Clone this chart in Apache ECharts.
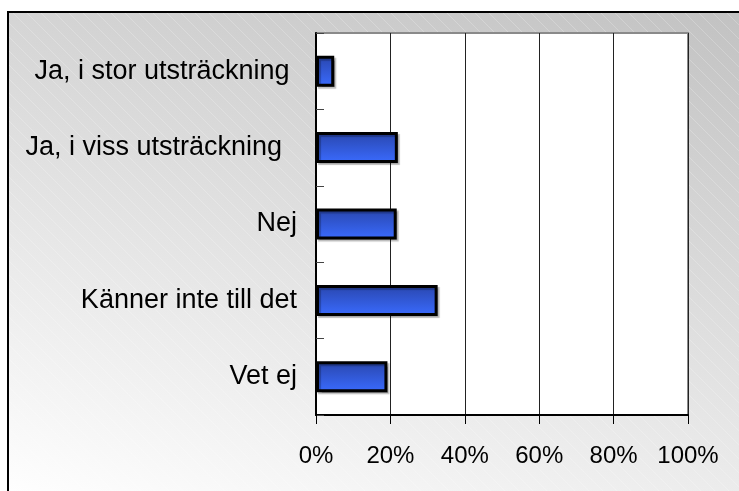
<!DOCTYPE html>
<html>
<head>
<meta charset="utf-8">
<script src="https://cdn.jsdelivr.net/npm/echarts@6/dist/echarts.min.js"></script>
<style>html,body{margin:0;padding:0;background:#fff;}#c{width:739px;height:491px;}</style>
</head>
<body>
<div id="c"></div>
<script>
var categories = ['Ja, i stor utsträckning ', 'Ja, i viss utsträckning  ', 'Nej', 'Känner inte till det', 'Vet ej'];
var values = [4.9, 22.0, 21.7, 32.7, 19.2];
var xTicks = [0, 20, 40, 60, 80, 100];

var chart = echarts.init(document.getElementById('c'), null, {renderer: 'canvas'});
var font = 'Liberation Sans, Arial, Helvetica, sans-serif';

// faint diagonal hatching pattern for the background
var pat = document.createElement('canvas');
pat.width = 14; pat.height = 14;
var pc = pat.getContext('2d');
pc.strokeStyle = 'rgba(255,255,255,0.22)';
pc.lineWidth = 1;
pc.beginPath();
pc.moveTo(-1, -1); pc.lineTo(15, 15);
pc.stroke();

chart.setOption({
  backgroundColor: '#ffffff',
  animation: false,
  graphic: [{
    type: 'rect', z: -10, silent: true,
    shape: {x: 8, y: 12, width: 740, height: 490},
    style: {
      fill: new echarts.graphic.LinearGradient(8, 491, 191, -145, [
        {offset: 0, color: '#fefefe'},
        {offset: 1, color: '#c2c2c2'}
      ], true),
      stroke: '#000', lineWidth: 2
    }
  }, {
    type: 'rect', z: -9, silent: true,
    shape: {x: 9, y: 13, width: 738, height: 488},
    style: {fill: {image: pat, repeat: 'repeat'}}
  }],
  grid: {left: 316, right: 51, top: 33, bottom: 76, show: true, backgroundColor: '#ffffff', borderColor: '#8a8a8a', borderWidth: 2},
  xAxis: {
    type: 'value', min: xTicks[0], max: xTicks[xTicks.length - 1], interval: 20,
    axisLine: {show: true, lineStyle: {color: '#000', width: 2}},
    axisTick: {show: true, length: 9, lineStyle: {color: '#000', width: 1}},
    axisLabel: {formatter: '{value}%', fontFamily: font, fontSize: 24, color: '#000', margin: 29},
    splitLine: {show: true, lineStyle: {color: '#222', width: 1}}
  },
  yAxis: {
    type: 'category', data: categories, inverse: true,
    axisLine: {show: true, lineStyle: {color: '#000', width: 2}},
    axisTick: {show: true, inside: true, length: 8, lineStyle: {color: '#444', width: 1}},
    axisLabel: {fontFamily: font, fontSize: 27, color: '#000', margin: 19}
  },
  series: [{
    type: 'bar', data: values, barWidth: 31,
    itemStyle: {
      color: new echarts.graphic.LinearGradient(0, 0, 0, 1, [
        {offset: 0, color: '#2946ad'},
        {offset: 1, color: '#3a6bff'}
      ]),
      borderColor: '#000', borderWidth: 3,
      shadowColor: 'rgba(0,0,0,0.25)', shadowOffsetX: 2, shadowOffsetY: 2, shadowBlur: 1
    }
  }]
});
</script>
</body>
</html>
